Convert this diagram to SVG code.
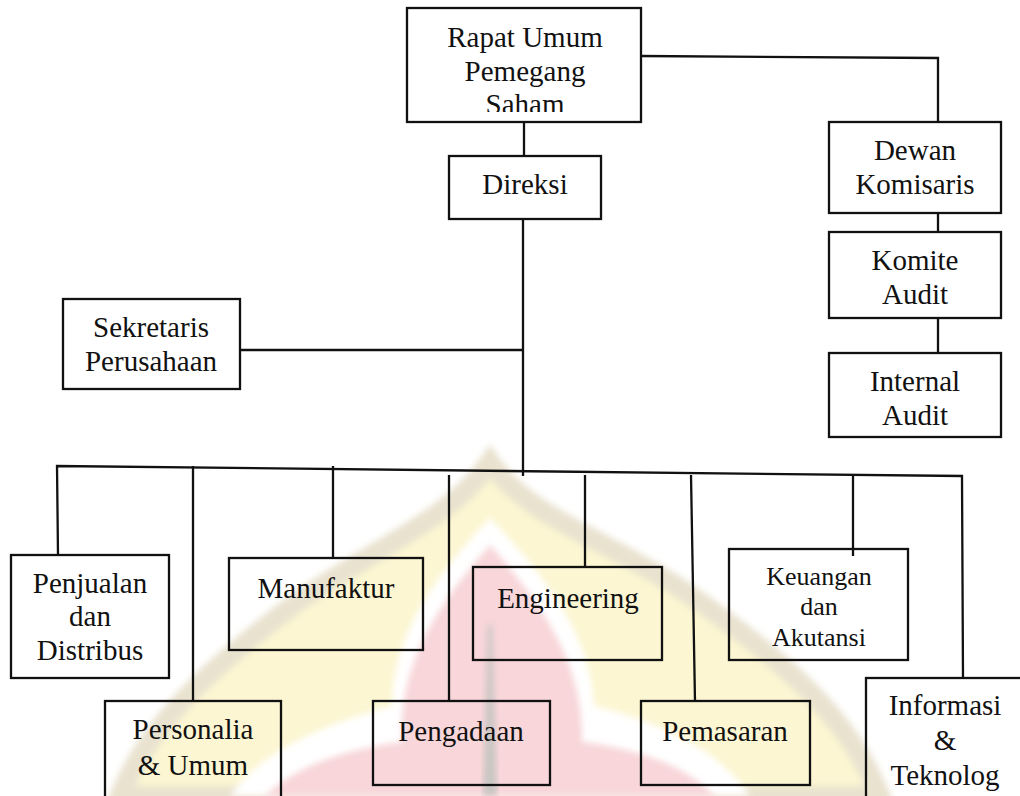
<svg xmlns="http://www.w3.org/2000/svg" width="1020" height="796" viewBox="0 0 1020 796">
  <defs>
    <filter id="soft" x="-10%" y="-10%" width="120%" height="120%">
      <feGaussianBlur stdDeviation="3"/>
    </filter>
    <clipPath id="clipTop">
      <rect x="407" y="8" width="234" height="104"/>
    </clipPath>
    <style>
      .box { fill: none; stroke: #111; stroke-width: 2.3; }
      .link { fill: none; stroke: #111; stroke-width: 2.3; }
      .t { font-family: "Liberation Serif", "Times New Roman", serif; font-size: 29px; fill: #111; text-anchor: middle; }
      .k { font-size: 26px; }
    </style>
  </defs>

  <rect width="1020" height="796" fill="#ffffff"/>

  <!-- background emblem -->
  <g id="emblem">
    <path d="M 120 796 C 150 720 220 660 300 600 C 380 545 450 520 490 462 C 530 520 610 540 690 595 C 790 665 850 720 880 796 Z"
          fill="#fcf6d2" stroke="#e9e2cf" stroke-width="20" filter="url(#soft)"/>
    <path d="M 230 796 C 260 750 330 722 392 706 C 392 640 430 580 490 518 C 550 580 592 640 594 706 C 660 722 720 750 750 796 Z"
          fill="#ffffff" filter="url(#soft)"/>
    <path d="M 265 796 C 300 762 355 748 402 742 C 398 662 440 602 490 545 C 540 602 584 662 582 742 C 630 748 682 762 715 796 Z"
          fill="#f8d6d9" filter="url(#soft)"/>
    <polygon points="488,625 492,625 497,796 483,796" fill="#c9c6c3" filter="url(#soft)"/>
  </g>

  <!-- connectors -->
  <g id="connectors">
    <polyline class="link" points="641,56 938,58 938,122"/>
    <line class="link" x1="524" y1="122" x2="524" y2="156"/>
    <line class="link" x1="938" y1="213" x2="938" y2="232"/>
    <line class="link" x1="938" y1="318" x2="938" y2="353"/>
    <line class="link" x1="523" y1="219" x2="523" y2="476"/>
    <line class="link" x1="240" y1="350" x2="523" y2="350"/>
    <polyline class="link" points="58,555 57,466 962,476 963,678"/>
    <line class="link" x1="193" y1="466" x2="193" y2="701"/>
    <line class="link" x1="333" y1="466" x2="333" y2="558"/>
    <line class="link" x1="449" y1="475" x2="449" y2="701"/>
    <line class="link" x1="585" y1="475" x2="585" y2="567"/>
    <line class="link" x1="691" y1="475" x2="695" y2="701"/>
    <line class="link" x1="853" y1="475" x2="853" y2="556"/>
  </g>

  <g id="rups">
    <rect class="box" x="407" y="8" width="234" height="114"/>
    <g clip-path="url(#clipTop)">
      <text class="t" x="525" y="47">Rapat Umum</text>
      <text class="t" x="525" y="81">Pemegang</text>
      <text class="t" x="525" y="114">Saham</text>
    </g>
  </g>

  <g id="direksi">
    <rect class="box" x="449" y="156" width="152" height="63"/>
    <text class="t" x="525" y="194">Direksi</text>
  </g>

  <g id="dewan-komisaris">
    <rect class="box" x="829" y="122" width="172" height="91"/>
    <text class="t" x="915" y="160">Dewan</text>
    <text class="t" x="915" y="194">Komisaris</text>
  </g>

  <g id="komite-audit">
    <rect class="box" x="829" y="232" width="172" height="86"/>
    <text class="t" x="915" y="270">Komite</text>
    <text class="t" x="915" y="304">Audit</text>
  </g>

  <g id="internal-audit">
    <rect class="box" x="829" y="353" width="172" height="84"/>
    <text class="t" x="915" y="391">Internal</text>
    <text class="t" x="915" y="425">Audit</text>
  </g>

  <g id="sekretaris">
    <rect class="box" x="63" y="299" width="177" height="90"/>
    <text class="t" x="151" y="337">Sekretaris</text>
    <text class="t" x="151" y="371">Perusahaan</text>
  </g>

  <g id="penjualan">
    <rect class="box" x="11" y="555" width="158" height="123"/>
    <text class="t" x="90" y="593">Penjualan</text>
    <text class="t" x="90" y="626">dan</text>
    <text class="t" x="90" y="660">Distribus</text>
  </g>

  <g id="manufaktur">
    <rect class="box" x="229" y="558" width="194" height="92"/>
    <text class="t" x="326" y="598">Manufaktur</text>
  </g>

  <g id="engineering">
    <rect class="box" x="473" y="567" width="189" height="93"/>
    <text class="t" x="568" y="608">Engineering</text>
  </g>

  <g id="keuangan">
    <rect class="box" x="729" y="549" width="179" height="111"/>
    <text class="t k" x="819" y="585">Keuangan</text>
    <text class="t k" x="819" y="615">dan</text>
    <text class="t k" x="819" y="646">Akutansi</text>
  </g>

  <g id="personalia">
    <rect class="box" x="105" y="701" width="176" height="100"/>
    <text class="t" x="193" y="739">Personalia</text>
    <text class="t" x="193" y="775">&amp; Umum</text>
  </g>

  <g id="pengadaan">
    <rect class="box" x="373" y="701" width="177" height="84"/>
    <text class="t" x="461" y="741">Pengadaan</text>
  </g>

  <g id="pemasaran">
    <rect class="box" x="641" y="701" width="169" height="84"/>
    <text class="t" x="725" y="741">Pemasaran</text>
  </g>

  <g id="informasi">
    <rect class="box" x="866" y="678" width="170" height="130"/>
    <text class="t" x="945" y="715">Informasi</text>
    <text class="t" x="945" y="750">&amp;</text>
    <text class="t" x="945" y="785">Teknolog</text>
  </g>
</svg>
